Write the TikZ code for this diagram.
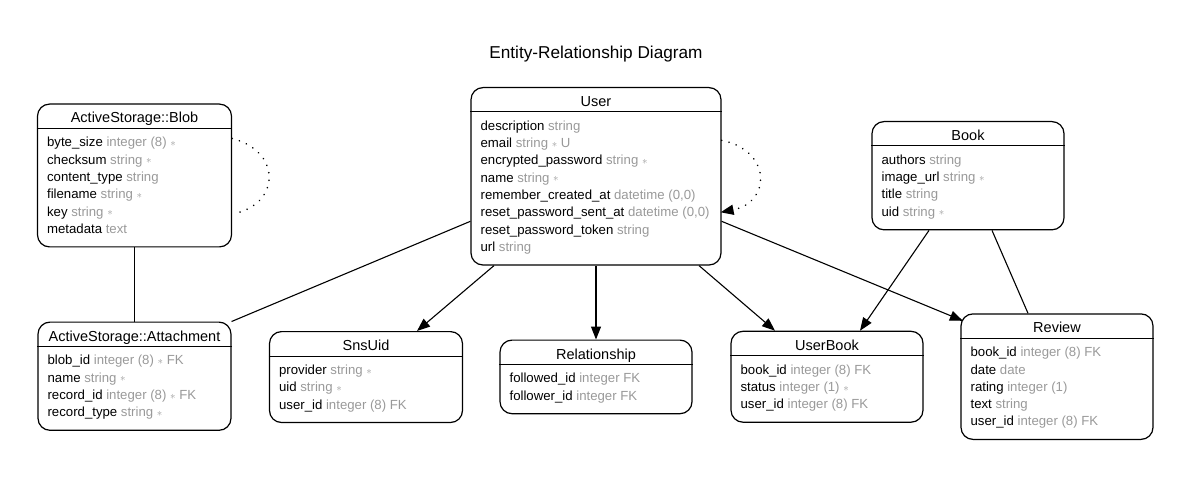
\documentclass[tikz,border=0pt]{standalone}
\usepackage{fontspec}
\setmainfont{Liberation Sans}
\usetikzlibrary{arrows.meta}
\definecolor{typegray}{HTML}{999999}
\newcommand{\tp}[1]{\textcolor{typegray}{#1}}
\newcommand{\req}{\raisebox{0.3pt}{\fontsize{11}{11}\selectfont$\ast$}}
% one table: name, top centre, width, rows, title, fields
\newcommand{\entity}[6]{%
  \node[entbox, minimum width=#3, minimum height={39+17.3*#4}, anchor=north] (#1) at (#2) {};
  \node[enthead] (#1-head) at ([yshift=-19.5]#1.north) {#5};
  \draw[sep] ([yshift=-25]#1.north west) -- ([yshift=-25]#1.north east);
  \foreach \fname/\ftype [count=\i] in {#6}
    \node[field] (#1-\i) at ([xshift=10,yshift={-43.4-17.3*(\i-1)}]#1.north west) {\fname\ \tp{\ftype}};
}
\begin{document}
\begin{tikzpicture}[x=1pt, y=-1pt,
    entbox/.style={draw, rounded corners=12pt, line width=1.2pt, inner sep=0pt},
    enthead/.style={anchor=base, inner sep=0pt, font=\fontsize{14.5}{17}\selectfont},
    field/.style={anchor=base west, inner sep=0pt, font=\fontsize{13.2}{17}\selectfont},
    sep/.style={line width=1pt},
    conn/.style={line width=1.1pt},
    connarr/.style={conn, -{Triangle[length=13pt,width=10pt]}},
    selfline/.style={line width=1.7pt, dash pattern=on 0.1pt off 7.5pt, line cap=round}]
    \useasboundingbox (0,0) rectangle (1191,478);

    \node[anchor=base, font=\fontsize{17.2}{20}\selectfont] (title) at (596,58.3) {Entity-Relationship Diagram};

    \entity{blob}{134.5,103.5}{194}{6}{ActiveStorage::Blob}{byte\_size/{integer (8) \req}, checksum/{string \req}, content\_type/string, filename/{string \req}, key/{string \req}, metadata/text}
    \entity{user}{596,87}{250}{8}{User}{description/string, email/{string \req\ U}, encrypted\_password/{string \req}, name/{string \req}, remember\_created\_at/{datetime (0,0)}, reset\_password\_sent\_at/{datetime (0,0)}, reset\_password\_token/string, url/string}
    \entity{book}{968,121}{192}{4}{Book}{authors/string, image\_url/{string \req}, title/string, uid/{string \req}}
    \entity{attach}{134.5,321.5}{193}{4}{ActiveStorage::Attachment}{blob\_id/{integer (8) \req\ FK}, name/{string \req}, record\_id/{integer (8) \req\ FK}, record\_type/{string \req}}
    \entity{sns}{366,331}{193}{3}{SnsUid}{provider/{string \req}, uid/{string \req}, user\_id/{integer (8) FK}}
    \entity{rel}{596,339.5}{192}{2}{Relationship}{followed\_id/{integer FK}, follower\_id/{integer FK}}
    \entity{ub}{827,330.7}{192}{3}{UserBook}{book\_id/{integer (8) FK}, status/{integer (1) \req}, user\_id/{integer (8) FK}}
    \entity{review}{1057,313.3}{192}{5}{Review}{book\_id/{integer (8) FK}, date/date, rating/{integer (1)}, text/string, user\_id/{integer (8) FK}}

    % associations
    \draw[conn] (blob) -- (attach);
    \draw[conn] ([yshift=-45]user.west) -- (attach.north east);
    \draw[connarr] ([xshift=-102]user.south) -- ([xshift=51]sns.north);
    \draw[connarr] (user) -- (rel);
    \draw[connarr] ([xshift=103]user.south) -- ([xshift=-52]ub.north);
    \draw[connarr] ([yshift=-45]user.east) -- ([xshift=2.5,yshift=-7.5]review.north west);
    \draw[connarr] ([xshift=-39]book.south) -- ([xshift=33]ub.north);
    \draw[conn] ([xshift=24]book.south) -- ([xshift=-29]review.north);

    % self references
    \draw[selfline] ([yshift=37]blob.east) .. controls +(48,12) and +(42,-12) .. ([xshift=6.5,yshift=-37]blob.east);
    \draw[selfline, -{Triangle[length=13pt,width=10pt]}] ([yshift=36]user.east) .. controls +(50,10) and +(51,-10) .. ([xshift=-1,yshift=-36]user.east);
\end{tikzpicture}
\end{document}
